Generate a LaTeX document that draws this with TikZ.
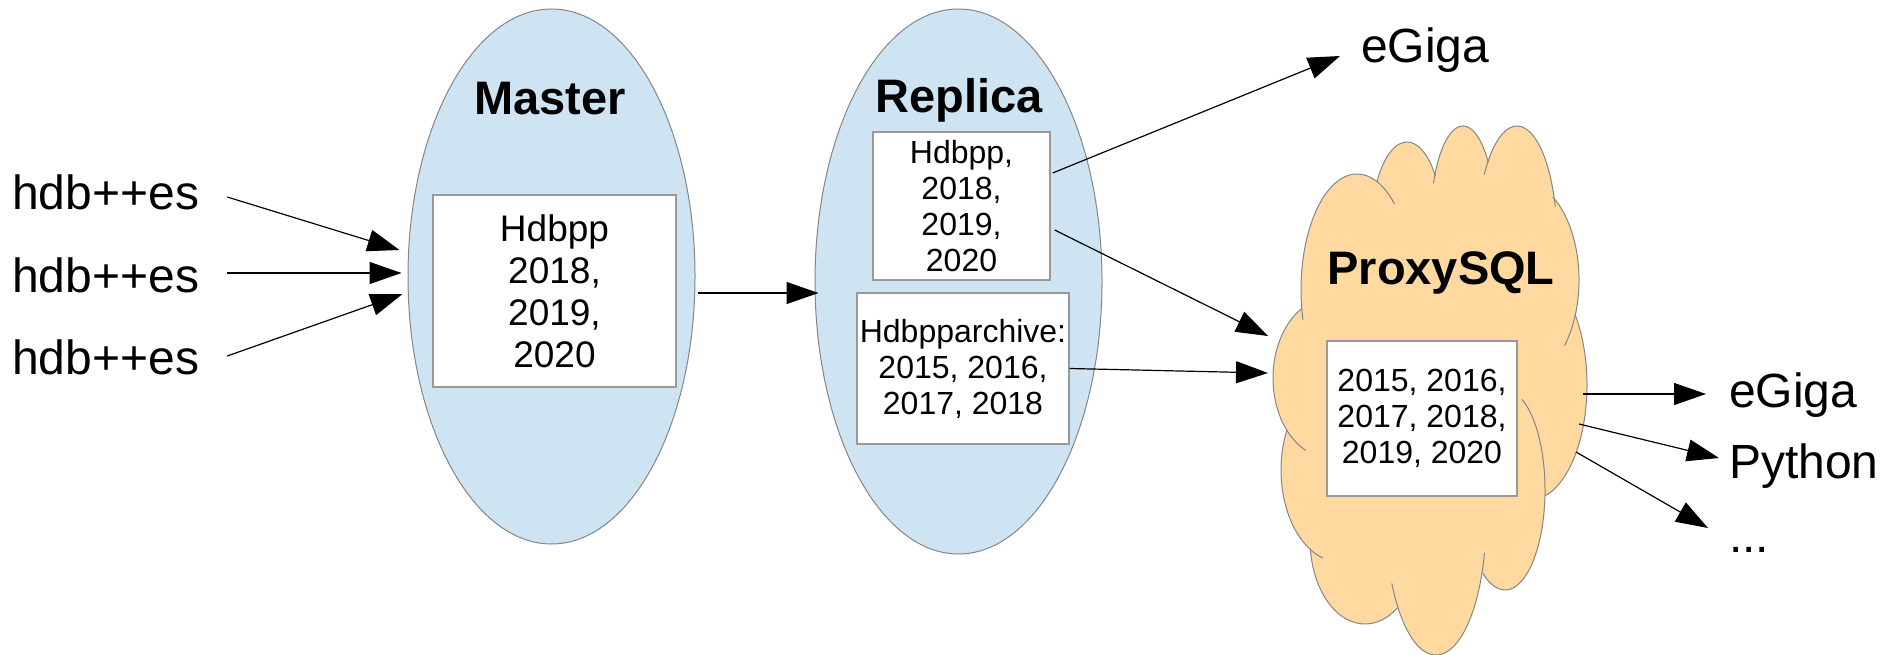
\documentclass[tikz,border=0pt]{standalone}
\usepackage{fontspec}
\setmainfont{Liberation Sans}
\usetikzlibrary{arrows.meta,shapes.geometric}
\definecolor{ellfill}{HTML}{CFE4F3}
\definecolor{cloudfill}{HTML}{FFD9A0}
\definecolor{outl}{HTML}{858585}
\definecolor{boxline}{HTML}{999999}
\begin{document}
\begin{tikzpicture}[x=1pt,y=-1pt,
  lbl/.style={font=\fontsize{48}{56}\selectfont, inner sep=0pt, anchor=base west},
  ttl/.style={font=\bfseries\fontsize{47}{56}\selectfont, inner sep=0pt, anchor=base},
  db/.style={ellipse, draw=outl, fill=ellfill, line width=1pt, inner sep=0pt},
  tbl/.style={rectangle, draw=boxline, fill=white, line width=1.3pt, align=center, inner sep=0pt},
  bigtxt/.style={font=\fontsize{37}{42}\selectfont},
  smalltxt/.style={font=\fontsize{32}{36}\selectfont},
  arr/.style={-{Triangle[length=32pt,width=22pt]}, line width=1.2pt, black},
  lobe/.style={draw=outl, line width=1pt}
]
\useasboundingbox (0,0) rectangle (1897,655);

% sources
\node[lbl] (h1) at (12,209) {hdb++es};
\node[lbl] (h2) at (12,292) {hdb++es};
\node[lbl] (h3) at (12,374) {hdb++es};

% master
\node[db, minimum width=287pt, minimum height=535pt] (master) at (551.5,276.5) {};
\node[ttl] (mtitle) at (550,115) {Master};
\node[tbl, bigtxt, minimum width=243pt, minimum height=192pt] (mbox) at (554.5,291) {Hdbpp\\2018,\\2019,\\2020};

% replica
\node[db, minimum width=287pt, minimum height=545pt] (replica) at (958.5,281.5) {};
\node[ttl] (rtitle) at (959,113) {Replica};
\node[tbl, smalltxt, minimum width=177pt, minimum height=148pt] (rbox1) at (961.5,206) {Hdbpp,\\2018,\\2019,\\2020};
\node[tbl, smalltxt, minimum width=212pt, minimum height=151pt] (rbox2) at (963,368.5) {Hdbpparchive:\\2015, 2016,\\2017, 2018};

% cloud fill
\fill[cloudfill] (1430,390) ellipse[x radius=120, y radius=190];
\foreach \cx/\cy/\rx/\ry in {1357/290/56/116, 1407/230/36/88, 1463/220/32/94, 1517/240/40/114,
  1520/280/59/100, 1530/385/57/115, 1505/490/40/100, 1436/520/50/135, 1365/540/55/84,
  1340/470/59/92, 1330/378/57/80}
  \fill[cloudfill] (\cx,\cy) ellipse[x radius=\rx, y radius=\ry];
% cloud outline
\foreach \cx/\cy/\rx/\ry/\ta/\tb in {1357/290/56/116/165/312, 1407/230/36/88/213/322,
  1463/220/32/94/203/322, 1517/240/40/114/215/343, 1520/280/59/100/-56/41,
  1530/385/57/115/-38/74, 1505/490/40/100/-65/124, 1436/520/50/135/14/152,
  1365/540/55/84/54/174, 1340/470/59/92/107/206, 1330/378/57/80/115/240}
  \draw[lobe] (\cx,\cy) ++(\ta:\rx\space and \ry) arc[start angle=\ta, end angle=\tb, x radius=\rx, y radius=\ry];

\node[ttl] (ptitle) at (1441,284) {ProxySQL};
\node[tbl, smalltxt, minimum width=190pt, minimum height=155pt] (pbox) at (1422,418.5) {2015, 2016,\\2017, 2018,\\2019, 2020};

% targets
\node[lbl] (eg1) at (1361,63) {eGiga};
\node[lbl] (eg2) at (1729,407) {eGiga};
\node[lbl] (py) at (1729,478) {Python};
\node[lbl] (dots) at (1729,552) {...};

\coordinate (cin1) at (1268,336);
\coordinate (cin2) at (1268,373);
\coordinate (cout1) at (1583,394);
\coordinate (cout2) at (1579,424);
\coordinate (cout3) at (1576,452);

% connectors
\draw[arr] ([shift={(28,-12)}]h1.base east) -- ([shift={(-8,-26.5)}]master.west);
\draw[arr] ([shift={(28,-19)}]h2.base east) -- ([shift={(-6,-3.5)}]master.west);
\draw[arr] ([shift={(28,-18)}]h3.base east) -- ([shift={(-5,17.5)}]master.west);
\draw[arr] ([shift={(2,16.5)}]master.east) -- ([shift={(4,11.5)}]replica.west);
\draw[arr] ([shift={(2,-33)}]rbox1.east) -- ([shift={(-21,-7)}]eg1.base west);
\draw[arr] ([shift={(4,24)}]rbox1.east) -- (cin1);
\draw[arr] (rbox2.east) -- (cin2);
\draw[arr] (cout1) -- ([shift={(-23,-13)}]eg2.base west);
\draw[arr] (cout2) -- ([shift={(-10,-20)}]py.base west);
\draw[arr] (cout3) -- ([shift={(-21,-24)}]dots.base west);
\end{tikzpicture}
\end{document}
